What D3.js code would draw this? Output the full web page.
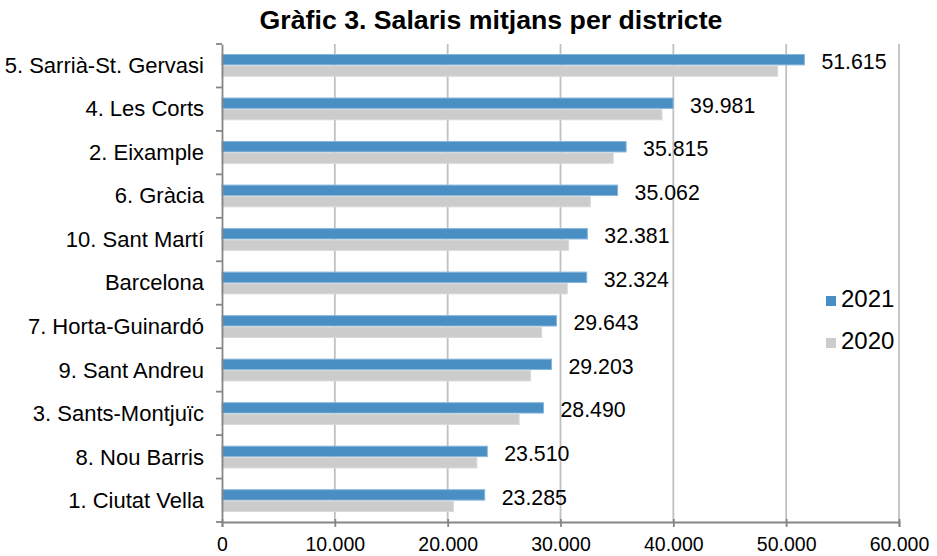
<!DOCTYPE html>
<html><head><meta charset="utf-8">
<script src="https://cdn.jsdelivr.net/npm/d3@7"></script>
<style>body{margin:0;background:#fff}svg{display:block;font-family:"Liberation Sans",Arial,sans-serif}</style>
</head><body>
<svg id="c" width="937" height="556"></svg>
<script>
const categories = ["5. Sarrià-St. Gervasi","4. Les Corts","2. Eixample","6. Gràcia","10. Sant Martí","Barcelona","7. Horta-Guinardó","9. Sant Andreu","3. Sants-Montjuïc","8. Nou Barris","1. Ciutat Vella"];
const values2021 = [51615,39981,35815,35062,32381,32324,29643,29203,28490,23510,23285];
const values2020 = [49240,38990,34670,32640,30720,30600,28330,27350,26330,22590,20510];
const xTicks = [0,10000,20000,30000,40000,50000,60000];
const seriesNames = ["2021","2020"];
const chartTitle = "Gràfic 3. Salaris mitjans per districte";

(function(){
const loc = d3.formatLocale({decimal:",",thousands:".",grouping:[3],currency:["","€"]});
const fmt = loc.format(",d");
const FF = "Liberation Sans, Arial, sans-serif";

const svg = d3.select("#c");
const mLeft = 222, mRight = 899, mTop = 44, mBottom = 522;
const x = d3.scaleLinear().domain([0,60000]).range([mLeft,mRight]);
const y = d3.scaleBand().domain(categories).range([mTop,mBottom]).paddingInner(0.477).paddingOuter(0.23);
const ys = d3.scaleBand().domain(seriesNames).range([0,y.bandwidth()]);
const colors = {"2021":"#4A8FC3","2020":"#CCCCCC"};
const strokes = {"2021":"#86B6DC","2020":"#D9D9D9"};

svg.append("text").attr("x",491).attr("y",29).attr("text-anchor","middle")
  .attr("font-size",26.7).attr("font-weight","bold").attr("fill","#000").text(chartTitle);

svg.append("g").selectAll("line").data(xTicks.slice(1)).join("line")
  .attr("x1",d=>x(d)).attr("x2",d=>x(d)).attr("y1",mTop).attr("y2",mBottom)
  .attr("stroke","#C0C0C0").attr("stroke-width",1.8);

const rows = categories.map((c,i)=>({c, v:{"2021":values2021[i],"2020":values2020[i]}}));
seriesNames.forEach(s=>{
  svg.append("g").selectAll("rect").data(rows).join("rect")
    .attr("x",x(0)).attr("y",d=>y(d.c)+ys(s)+0.5)
    .attr("width",d=>x(d.v[s])-x(0)).attr("height",ys.bandwidth()-1)
    .attr("fill",colors[s]).attr("stroke",strokes[s]).attr("stroke-width",1);
});

svg.append("g").selectAll("text").data(rows).join("text")
  .attr("x",d=>x(d.v["2021"])+17).attr("y",d=>y(d.c)+ys("2021")+15.3)
  .attr("font-size",21.3).attr("fill","#000")
  .text(d=>fmt(d.v["2021"]));

const yAxis = d3.axisLeft(y).tickSize(0).tickPadding(18);
const gy = svg.append("g").attr("transform",`translate(${mLeft},0)`).call(yAxis);
gy.select(".domain").attr("stroke","#868686").attr("stroke-width",1.8);
gy.selectAll("text").attr("font-size",22).attr("fill","#000").attr("font-family",FF).attr("dy","0.34em");
const bounds = d3.range(categories.length+1).map(i=>mTop+i*(mBottom-mTop)/categories.length);
gy.selectAll(".bt").data(bounds).join("line").attr("class","bt")
  .attr("x1",-6).attr("x2",0).attr("y1",d=>d).attr("y2",d=>d)
  .attr("stroke","#868686").attr("stroke-width",1.8);

const xAxis = d3.axisBottom(x).tickValues(xTicks).tickSize(5).tickPadding(10).tickFormat(fmt);
const gx = svg.append("g").attr("transform",`translate(0,${mBottom})`).call(xAxis);
gx.select(".domain").attr("stroke","#868686").attr("stroke-width",1.8);
gx.selectAll(".tick line").attr("stroke","#868686").attr("stroke-width",1.8).attr("y1",-3);
gx.selectAll("text").attr("font-size",19.5).attr("fill","#000").attr("font-family",FF);

const lg = svg.append("g");
seriesNames.forEach((s,i)=>{
  const ly = 301 + i*42;
  lg.append("rect").attr("x",826).attr("y",ly-5).attr("width",10).attr("height",10).attr("fill",colors[s]);
  lg.append("text").attr("x",841).attr("y",ly).attr("dominant-baseline","middle")
    .attr("font-size",24).attr("fill","#000").text(s);
});
})();
</script>
</body></html>
